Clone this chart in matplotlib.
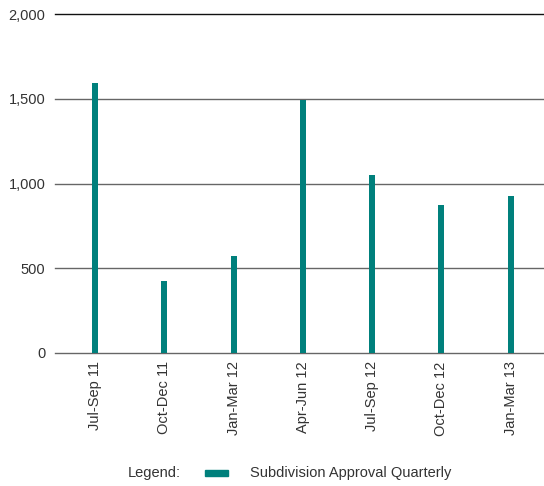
import matplotlib.pyplot as plt
from matplotlib.patches import Rectangle

quarters = ["Jul-Sep 11", "Oct-Dec 11", "Jan-Mar 12", "Apr-Jun 12",
            "Jul-Sep 12", "Oct-Dec 12", "Jan-Mar 13"]
approvals = [1592, 425, 572, 1493, 1050, 873, 926]
y_ticks = [0, 500, 1000, 1500, 2000]
y_tick_labels = ["0", "500", "1,000", "1,500", "2,000"]

plt.rcParams['font.family'] = ['Liberation Sans', 'DejaVu Sans']
teal = "#00807c"
text_col = "#333333"
fs = 10.5

fig = plt.figure(figsize=(5.44, 4.86), dpi=100)
ax = fig.add_axes([55 / 544, 1 - 353 / 486, 489 / 544, 339 / 486])

# grid lines
for v in y_ticks:
    ax.axhline(v, color="#111111" if v == 2000 else "#666666",
               lw=1.0, zorder=1, clip_on=False)

ax.bar(range(len(quarters)), approvals, width=0.087, color=teal, zorder=2)

ax.set_xlim(-0.577, 6.48)
ax.set_ylim(0, 2000)
ax.set_yticks(y_ticks)
ax.set_yticklabels(y_tick_labels, color=text_col, fontsize=fs)
ax.set_xticks(range(len(quarters)))
ax.set_xticklabels(quarters, rotation=90, color=text_col, fontsize=fs)
ax.tick_params(axis="both", length=0)
ax.tick_params(axis="y", pad=7)
ax.tick_params(axis="x", pad=6)
for s in ax.spines.values():
    s.set_visible(False)

# legend row
fig.text(128 / 544, 1 - 473 / 486, "Legend:", color=text_col,
         fontsize=fs, va="center", ha="left")
fig.patches.append(Rectangle((205 / 544, 1 - 476 / 486), 23 / 544, 6 / 486,
                             transform=fig.transFigure, color=teal))
fig.text(250 / 544, 1 - 473 / 486, "Subdivision Approval Quarterly",
         color=text_col, fontsize=fs, va="center", ha="left")

fig.savefig("out.png", dpi=100)
